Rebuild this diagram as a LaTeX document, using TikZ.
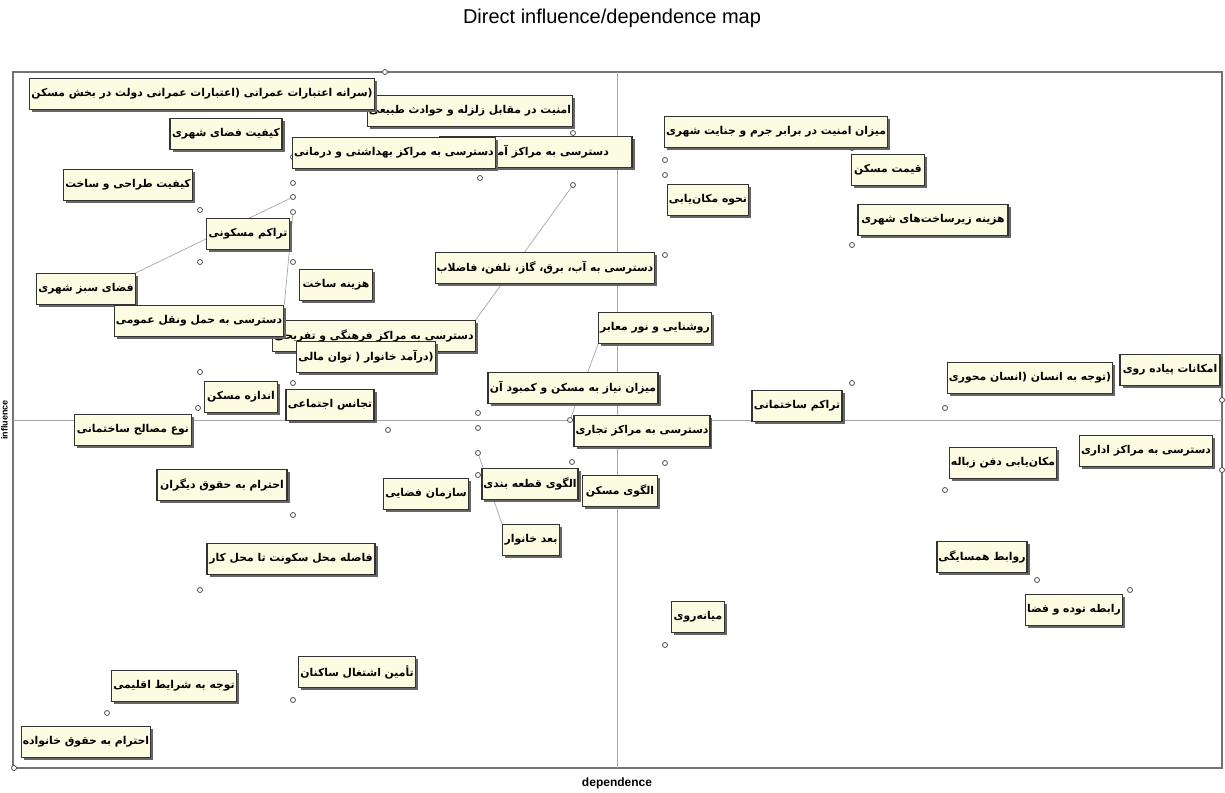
\documentclass[tikz,border=0pt]{standalone}
\usepackage{fontspec}
\setmainfont{Liberation Sans}
\newfontfamily\farsifont[Script=Arabic]{DejaVu Sans}
\TeXXeTstate=1
\usetikzlibrary{shadows,backgrounds}
\newcommand{\faR}[1]{\beginR #1\endR}
\tikzset{varbox/.style={
			  rectangle,
			  drop shadow     = {shadow xshift=2.5pt, shadow yshift=-2.5pt, fill=black!60, opacity=1},
			  minimum height  = 31pt,
			  inner xsep      = 1.5pt,
			  line width      = 1.2pt,
			  draw            = black!80,
			  fill            = boxfill,
			  font            = \farsifont\bfseries\fontsize{10.8}{12}\selectfont,
			  text centered
			}}
\tikzset{pt/.style={
			  circle,
			  draw            = black!70,
			  fill            = white,
			  line width      = 0.8pt,
			  inner sep       = 0pt,
			  minimum size    = 5pt
			}}
\tikzset{leader/.style={draw=black!35, line width=0.7pt}}
\definecolor{boxfill}{RGB}{252,252,226}

\begin{document}
\begin{tikzpicture}[x=1pt, y=-1pt]
    \useasboundingbox (0,0) rectangle (1225,792);

    \node (maptitle) at (612,18) {\fontsize{20}{22}\selectfont Direct influence/dependence map};
    \node (xlab)     at (617,783) {\bfseries\fontsize{12}{14}\selectfont dependence};
    \node (ylab)     [rotate=90, anchor=north, inner sep=1pt] at (0,420) {\bfseries\fontsize{9}{11}\selectfont influence};

    % points
    \node (p_budget)    [pt] at (385,72)   {};
    \node (p_quake)     [pt] at (573,133)  {};
    \node (p_health)    [pt] at (293,183)  {};
    \node (p_school)    [pt] at (480,178)  {};
    \node (p_urban)     [pt] at (293,157)  {};
    \node (p_design)    [pt] at (200,210)  {};
    \node (p_resdens)   [pt] at (200,262)  {};
    \node (p_green)     [pt] at (293,197)  {};
    \node (p_cost)      [pt] at (293,262)  {};
    \node (p_transit)   [pt] at (293,212)  {};
    \node (p_culture)   [pt] at (573,185)  {};
    \node (p_income)    [pt] at (293,383)  {};
    \node (p_light)     [pt] at (570,420)  {};
    \node (p_need)      [pt] at (478,413)  {};
    \node (p_trade)     [pt] at (478,428)  {};
    \node (p_parcel)    [pt] at (572,462)  {};
    \node (p_pattern)   [pt] at (665,463)  {};
    \node (p_spatial)   [pt] at (478,475)  {};
    \node (p_hhsize)    [pt] at (478,453)  {};
    \node (p_cohesion)  [pt] at (388,430)  {};
    \node (p_size)      [pt] at (200,372)  {};
    \node (p_material)  [pt] at (198,408)  {};
    \node (p_others)    [pt] at (293,515)  {};
    \node (p_commute)   [pt] at (200,590)  {};
    \node (p_climate)   [pt] at (107,713)  {};
    \node (p_family)    [pt] at (14,768)   {};
    \node (p_jobs)      [pt] at (293,700)  {};
    \node (p_moder)     [pt] at (665,645)  {};
    \node (p_neigh)     [pt] at (1037,580) {};
    \node (p_mass)      [pt] at (1130,590) {};
    \node (p_waste)     [pt] at (945,490)  {};
    \node (p_office)    [pt] at (1222,470) {};
    \node (p_walk)      [pt] at (1222,400) {};
    \node (p_human)     [pt] at (945,408)  {};
    \node (p_bdens)     [pt] at (852,383)  {};
    \node (p_crime)     [pt] at (665,160)  {};
    \node (p_locate)    [pt] at (665,175)  {};
    \node (p_price)     [pt] at (852,148)  {};
    \node (p_infra)     [pt] at (852,245)  {};
    \node (p_utility)   [pt] at (665,255)  {};

    % labels
    \node (quake)    [varbox, minimum width=200pt] at (470,111)  {\faR{امنیت در مقابل زلزله و حوادث طبیعی}};
    \node (budget)   [varbox, minimum width=339pt] at (202,94)   {\faR{(سرانه اعتبارات عمرانی (اعتبارات عمرانی دولت در بخش مسکن}};
    \node (school)   [varbox, minimum width=192pt] at (536,152)  {\faR{دسترسی به مراکز آموزشی}};
    \node (health)   [varbox, minimum width=198pt] at (394,153)  {\faR{دسترسی به مراکز بهداشتی و درمانی}};
    \node (urban)    [varbox, minimum width=112pt] at (226,134)  {\faR{کیفیت فضای شهری}};
    \node (design)   [varbox, minimum width=129pt] at (128,185)  {\faR{کیفیت طراحی و ساخت}};
    \node (resdens)  [varbox, minimum width=83pt]  at (248,234)  {\faR{تراکم مسکونی}};
    \node (green)    [varbox, minimum width=95pt]  at (86,289)   {\faR{فضای سبز شهری}};
    \node (cost)     [varbox, minimum width=73pt]  at (336,285)  {\faR{هزینه ساخت}};
    \node (culture)  [varbox, minimum width=195pt] at (374,336)  {\faR{دسترسی به مراکز فرهنگی و تفریحی}};
    \node (transit)  [varbox, minimum width=162pt] at (199,321)  {\faR{دسترسی به حمل ونقل عمومی}};
    \node (income)   [varbox, minimum width=138pt] at (366,357)  {\faR{(درآمد خانوار ( توان مالی}};
    \node (utility)  [varbox, minimum width=215pt] at (545,268)  {\faR{دسترسی به آب، برق، گاز، تلفن، فاضلاب}};
    \node (light)    [varbox, minimum width=104pt] at (655,328)  {\faR{روشنایی و نور معابر}};
    \node (need)     [varbox, minimum width=170pt] at (573,388)  {\faR{میزان نیاز به مسکن و کمبود آن}};
    \node (trade)    [varbox, minimum width=135pt] at (642,431)  {\faR{دسترسی به مراکز تجاری}};
    \node (parcel)   [varbox, minimum width=96pt]  at (530,484)  {\faR{الگوی قطعه بندی}};
    \node (pattern)  [varbox, minimum width=75pt]  at (620,491)  {\faR{الگوی مسکن}};
    \node (spatial)  [varbox, minimum width=82pt]  at (426,494)  {\faR{سازمان فضایی}};
    \node (hhsize)   [varbox, minimum width=57pt]  at (531,540)  {\faR{بعد خانوار}};
    \node (cohesion) [varbox, minimum width=88pt]  at (330,405)  {\faR{تجانس اجتماعی}};
    \node (size)     [varbox, minimum width=73pt]  at (241,397)  {\faR{اندازه مسکن}};
    \node (material) [varbox, minimum width=117pt] at (133,430)  {\faR{نوع مصالح ساختمانی}};
    \node (others)   [varbox, minimum width=130pt] at (222,485)  {\faR{احترام به حقوق دیگران}};
    \node (commute)  [varbox, minimum width=168pt] at (291,559)  {\faR{فاصله محل سکونت تا محل کار}};
    \node (climate)  [varbox, minimum width=122pt] at (174,686)  {\faR{توجه به شرایط اقلیمی}};
    \node (family)   [varbox, minimum width=128pt] at (86,742)   {\faR{احترام به حقوق خانواده}};
    \node (jobs)     [varbox, minimum width=115pt] at (357,672)  {\faR{تأمین اشتغال ساکنان}};
    \node (moder)    [varbox, minimum width=53pt]  at (698,617)  {\faR{میانه‌روی}};
    \node (neigh)    [varbox, minimum width=89pt]  at (982,557)  {\faR{روابط همسایگی}};
    \node (mass)     [varbox, minimum width=92pt]  at (1074,610) {\faR{رابطه توده و فضا}};
    \node (waste)    [varbox, minimum width=107pt] at (1003,463) {\faR{مکان‌یابی دفن زباله}};
    \node (office)   [varbox, minimum width=132pt] at (1146,451) {\faR{دسترسی به مراکز اداری}};
    \node (walk)     [varbox, minimum width=100pt] at (1170,370) {\faR{امکانات پیاده روی}};
    \node (human)    [varbox, minimum width=165pt] at (1030,378) {\faR{(توجه به انسان (انسان محوری}};
    \node (bdens)    [varbox, minimum width=90pt]  at (797,406)  {\faR{تراکم ساختمانی}};
    \node (crime)    [varbox, minimum width=223pt] at (776,132)  {\faR{میزان امنیت در برابر جرم و جنایت شهری}};
    \node (price)    [varbox, minimum width=73pt]  at (888,170)  {\faR{قیمت مسکن}};
    \node (locate)   [varbox, minimum width=73pt]  at (708,200)  {\faR{نحوه مکان‌یابی}};
    \node (infra)    [varbox, minimum width=150pt] at (933,220)  {\faR{هزینه زیرساخت‌های شهری}};

    \begin{scope}[on background layer]
      \draw [black!55, line width=1.4pt] (13,72) rectangle (1222,768);
      \draw [black!35, line width=0.6pt] (617,72) -- (617,768);
      \draw [black!35, line width=0.6pt] (13,420) -- (1222,420);
%
      \draw [leader] (p_green)   -- (green.north east);
      \draw [leader] (p_transit) -- (transit.north east);
      \draw [leader] (p_culture) -- (culture.north east);
      \draw [leader] (p_light)   -- (light.south west);
      \draw [leader] (p_hhsize)  -- (hhsize.north west);
    \end{scope}

\end{tikzpicture}
\end{document}
